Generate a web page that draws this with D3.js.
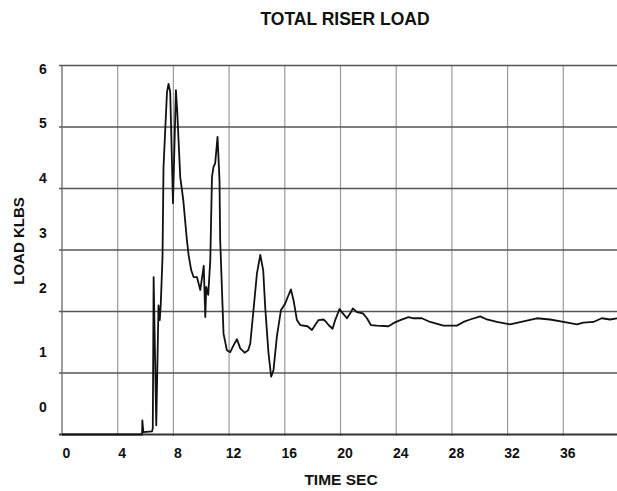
<!DOCTYPE html>
<html>
<head>
    <title>Total Riser Load</title>
    <script src="https://d3js.org/d3.v7.min.js"></script>
    <style>
        body { margin: 0; background: #fff; }
        text { font-family: "Liberation Sans", Arial, sans-serif; font-weight: bold; fill: #111; }
    </style>
</head>
<body>
    <div id="chart"></div>

    <script>
        // time (sec) and load (klbs)
        const time = [0, 5.75, 5.77, 5.84, 6.46, 6.52, 6.58, 6.77, 6.93, 7.02, 7.09, 7.22, 7.29, 7.54, 7.65, 7.77,
            7.97, 8.18, 8.28, 8.49, 8.71, 8.97, 9.09, 9.28, 9.45, 9.69, 9.93, 10.12, 10.18, 10.29, 10.36, 10.5,
            10.65, 10.77, 10.88, 11.0, 11.17, 11.31, 11.36, 11.6, 11.84, 12.08, 12.32, 12.56, 12.8, 13.11, 13.37,
            13.52, 13.75, 14.0, 14.24, 14.45, 14.59, 14.83, 15.02, 15.19, 15.43, 15.72, 16.03, 16.22, 16.44, 16.63,
            16.87, 17.11, 17.63, 17.95, 18.18, 18.42, 18.78, 18.97, 19.14, 19.43, 19.62, 19.93, 20.17, 20.46, 20.7,
            20.89, 21.18, 21.61, 21.9, 22.18, 22.61, 23.45, 23.8, 24.29, 24.88, 25.24, 25.84, 26.44, 27.39, 28.36,
            28.83, 29.31, 30.03, 30.51, 31.23, 32.18, 33.14, 34.1, 35.05, 36.01, 36.97, 37.44, 38.16, 38.76, 39.36, 39.9];
        const load = [0, 0, 0.23, 0.04, 0.05, 0.1, 2.56, 0.15, 2.1, 1.86, 2.1, 2.9, 4.35, 5.57, 5.7, 5.57,
            3.76, 5.6, 5.23, 4.19, 3.81, 3.16, 2.92, 2.67, 2.56, 2.56, 2.35, 2.65, 2.74, 1.91, 2.4, 2.27,
            2.84, 4.19, 4.35, 4.41, 4.84, 4.14, 3.16, 1.64, 1.37, 1.34, 1.45, 1.55, 1.4, 1.33, 1.37,
            1.48, 2.02, 2.62, 2.92, 2.67, 2.08, 1.32, 0.94, 1.05, 1.59, 2.02, 2.13, 2.24, 2.36, 2.18,
            1.86, 1.78, 1.76, 1.7, 1.78, 1.86, 1.87, 1.83, 1.78, 1.72, 1.86, 2.04, 1.97, 1.89, 1.97,
            2.05, 1.99, 1.97, 1.89, 1.78, 1.77, 1.76, 1.81, 1.86, 1.91, 1.89, 1.89, 1.83, 1.77, 1.77,
            1.83, 1.87, 1.92, 1.87, 1.83, 1.79, 1.84, 1.89, 1.87, 1.83, 1.79, 1.82, 1.83, 1.89, 1.87, 1.89];

        const xTicks = [0, 4, 8, 12, 16, 20, 24, 28, 32, 36];
        const yTicks = [0, 1, 2, 3, 4, 5, 6];

        const width = 617, height = 491;

        const svg = d3.select("#chart").append("svg")
            .attr("width", width)
            .attr("height", height);

        const x = d3.scaleLinear().domain([0, 40]).range([62, 619]);
        const y = d3.scaleLinear().domain([0, 6]).range([434.5, 65.5]);
        // the printed y labels sit off the grid in the scan
        const yLabel = d3.scaleLinear().domain([0, 1, 2, 6]).range([406, 351, 287, 68]);

        // vertical grid
        svg.append("g")
            .selectAll("line")
            .data(xTicks.slice(1))
            .enter().append("line")
            .attr("x1", d => x(d)).attr("x2", d => x(d))
            .attr("y1", y(6)).attr("y2", y(0) + 1.5)
            .attr("stroke", "#9a9a9a")
            .attr("stroke-width", 1.2);

        // horizontal grid
        svg.append("g")
            .selectAll("line")
            .data(yTicks)
            .enter().append("line")
            .attr("x1", x(0) - 3).attr("x2", width)
            .attr("y1", d => y(d)).attr("y2", d => y(d))
            .attr("stroke", d => d === 0 ? "#333" : "#555")
            .attr("stroke-width", d => d === 0 ? 1.8 : 1.3);

        // left border
        svg.append("line")
            .attr("x1", x(0)).attr("x2", x(0))
            .attr("y1", y(6)).attr("y2", y(0))
            .attr("stroke", "#666")
            .attr("stroke-width", 1.3);

        // axes labels
        const xAxis = svg.append("g")
            .attr("transform", "translate(4,458)")
            .call(d3.axisBottom(x).tickValues(xTicks).tickSize(0).tickPadding(0));
        xAxis.select(".domain").remove();
        xAxis.selectAll("text")
            .attr("dy", 0)
            .style("font-size", "14px")
            .style("font-family", "'Liberation Sans', Arial, sans-serif")
            .style("font-weight", "bold")
            .attr("fill", "#111");

        const yAxis = svg.append("g")
            .attr("transform", "translate(43,0)")
            .call(d3.axisLeft(yLabel).tickValues(yTicks).tickFormat(d3.format("d")).tickSize(0).tickPadding(0));
        yAxis.select(".domain").remove();
        yAxis.selectAll("text")
            .attr("text-anchor", "middle")
            .attr("dy", "0.36em")
            .style("font-size", "14px")
            .style("font-family", "'Liberation Sans', Arial, sans-serif")
            .style("font-weight", "bold")
            .attr("fill", "#111");

        // curve
        const line = d3.line()
            .x((d, i) => x(time[i]))
            .y(d => y(d));

        svg.append("path")
            .datum(load)
            .attr("fill", "none")
            .attr("stroke", "#111")
            .attr("stroke-width", 1.8)
            .attr("stroke-linejoin", "round")
            .attr("d", line);

        // titles
        svg.append("text")
            .attr("x", 345).attr("y", 25)
            .attr("text-anchor", "middle")
            .style("font-size", "17.5px")
            .text("TOTAL RISER LOAD");

        svg.append("text")
            .attr("x", 341).attr("y", 485)
            .attr("text-anchor", "middle")
            .style("font-size", "15.5px")
            .text("TIME SEC");

        svg.append("text")
            .attr("transform", "translate(24,241) rotate(-90)")
            .attr("text-anchor", "middle")
            .style("font-size", "15px")
            .text("LOAD KLBS");
    </script>
</body>
</html>
